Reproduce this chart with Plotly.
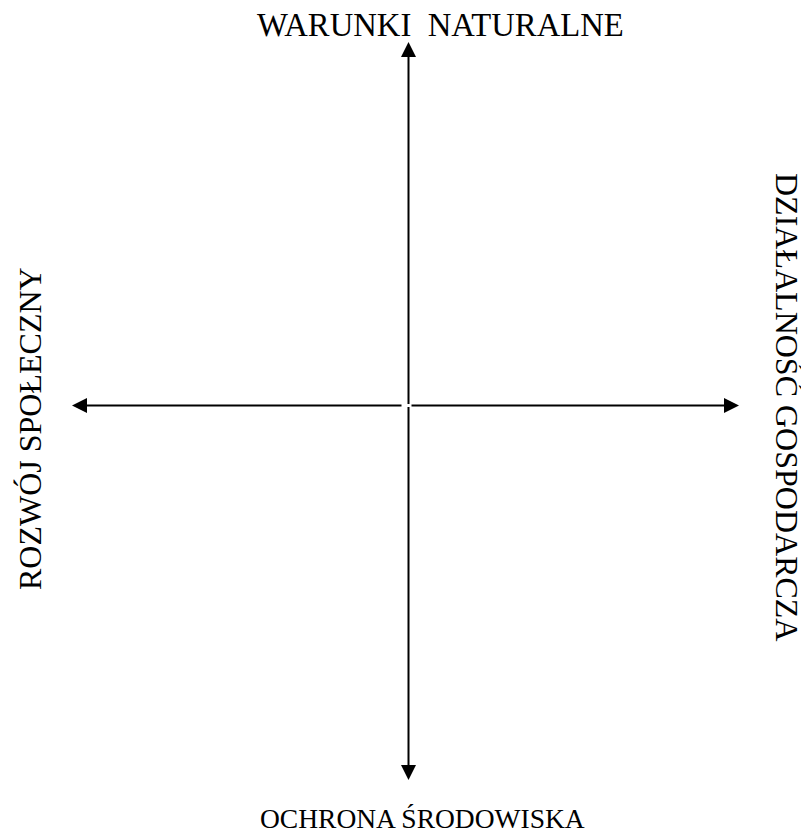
import plotly.graph_objects as go

# Diagram labels (four directions)
label_top = "WARUNKI\u00a0 NATURALNE"
label_bottom = "OCHRONA ŚRODOWISKA"
label_left = "ROZWÓJ SPOŁECZNY"
label_right = "DZIAŁALNOŚĆ GOSPODARCZA"

W, H = 809, 833
OFF = 8  # page body margin in the browser
cx, cy = 408.5, 405.5

fig = go.Figure()
fig.update_layout(
    width=W - OFF, height=H - OFF,
    margin=dict(l=0, r=0, t=0, b=0),
    paper_bgcolor="white", plot_bgcolor="white",
    showlegend=False,
    xaxis=dict(range=[OFF, W], visible=False, fixedrange=True),
    yaxis=dict(range=[H, OFF], visible=False, fixedrange=True),
)

fig.add_trace(go.Scatter(x=[OFF, W], y=[OFF, H], mode="markers", marker=dict(opacity=0), hoverinfo="skip"))

arrow_common = dict(xref="x", yref="y", axref="x", ayref="y", text="", showarrow=True,
                    arrowhead=2, arrowsize=1.5, arrowwidth=2, arrowcolor="black", standoff=0, startstandoff=0)
fig.add_annotation(x=cx, y=42, ax=cx, ay=cy, **arrow_common)
fig.add_annotation(x=cx, y=780, ax=cx, ay=cy, **arrow_common)
fig.add_annotation(x=72, y=cy, ax=403, ay=cy, **arrow_common)
fig.add_annotation(x=739, y=cy, ax=410, ay=cy, **arrow_common)

font = dict(family="Times New Roman, Liberation Serif, serif", color="black")

fig.add_annotation(x=440.5, y=25, text=label_top, showarrow=False, xanchor="center", yanchor="middle",
                   font=dict(size=32.7, **font))
fig.add_annotation(x=422, y=818, text=label_bottom, showarrow=False, xanchor="center", yanchor="middle",
                   font=dict(size=27.5, **font))
fig.add_annotation(x=30, y=429, text=label_left, showarrow=False, xanchor="center", yanchor="middle",
                   textangle=-90, font=dict(size=32, **font))
fig.add_annotation(x=787, y=407, text=label_right, showarrow=False, xanchor="center", yanchor="middle",
                   textangle=90, font=dict(size=32, **font))

fig.write_html("out.html")
